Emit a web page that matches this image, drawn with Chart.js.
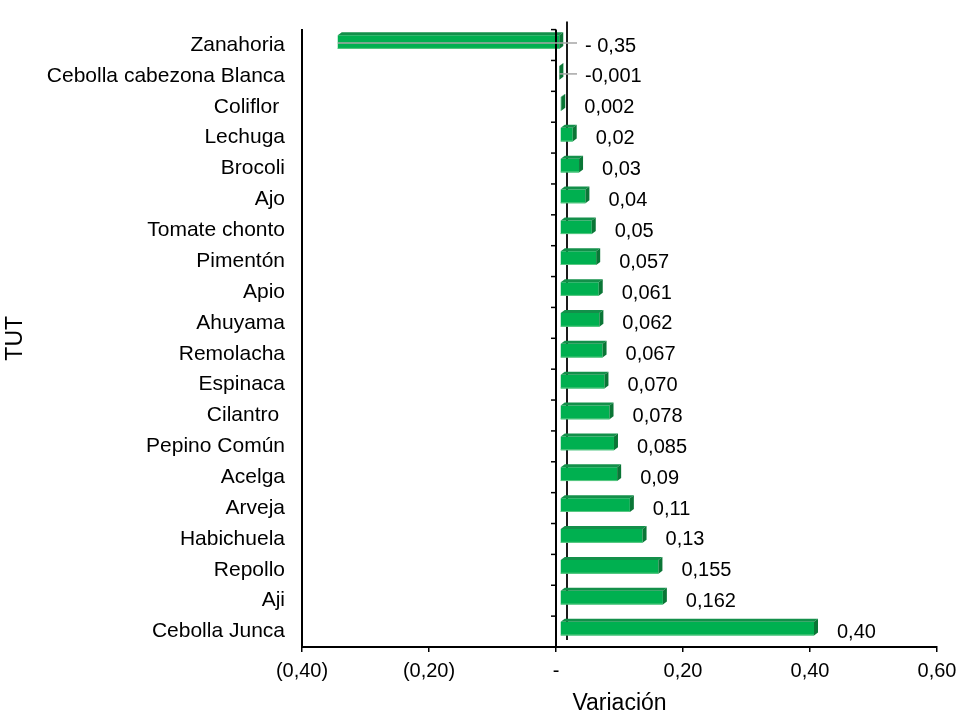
<!DOCTYPE html>
<html>
<head>
<meta charset="utf-8">
<title>Variación TUT</title>
<script src="https://cdn.jsdelivr.net/npm/chart.js@4.4.1/dist/chart.umd.min.js"></script>
<style>
  html, body { margin: 0; padding: 0; background: #fff; }
  #wrap { width: 961px; height: 717px; }
</style>
</head>
<body>
<div id="wrap"><canvas id="chart" width="961" height="717"></canvas></div>
<script>
// Categories top to bottom, as in the picture
const categories = [
  'Zanahoria', 'Cebolla cabezona Blanca', 'Coliflor ', 'Lechuga', 'Brocoli',
  'Ajo', 'Tomate chonto', 'Pimentón', 'Apio', 'Ahuyama',
  'Remolacha', 'Espinaca', 'Cilantro ', 'Pepino Común', 'Acelga',
  'Arveja', 'Habichuela', 'Repollo', 'Aji', 'Cebolla Junca'
];
const values = [
  -0.35, -0.001, 0.002, 0.02, 0.03,
  0.04, 0.05, 0.057, 0.061, 0.062,
  0.067, 0.070, 0.078, 0.085, 0.09,
  0.11, 0.13, 0.155, 0.162, 0.40
];
const valueLabels = [
  '- 0,35', '-0,001', '0,002', '0,02', '0,03',
  '0,04', '0,05', '0,057', '0,061', '0,062',
  '0,067', '0,070', '0,078', '0,085', '0,09',
  '0,11', '0,13', '0,155', '0,162', '0,40'
];
const xTickValues = [-0.4, -0.2, 0, 0.2, 0.4, 0.6];
const xTickLabels = ['(0,40)', '(0,20)', '-', '0,20', '0,40', '0,60'];

const FONT = '"Liberation Sans", Arial, sans-serif';
const DEPTH_X = 4, DEPTH_Y = 3; // fake 3D depth

// fake 3D faces, zero axis, data labels
const barDecor = {
  id: 'barDecor',
  beforeDatasetsDraw(chart) {
    const {ctx, chartArea, scales: {x}} = chart;
    const zx = x.getPixelForValue(0);
    ctx.save();
    ctx.strokeStyle = '#1a1a1a';
    ctx.lineWidth = 2;
    ctx.beginPath();
    ctx.moveTo(zx + 11, chartArea.top - 8);
    ctx.lineTo(zx + 11, chartArea.bottom - 7);
    ctx.stroke();
    ctx.restore();
  },
  beforeDatasetDraw(chart) {
    // push the front faces back into the "3D" box
    chart.ctx.save();
    chart.ctx.translate(DEPTH_X, -DEPTH_Y);
  },
  afterDatasetDraw(chart, args) {
    const ctx = chart.ctx;
    const dx = DEPTH_X, dy = DEPTH_Y;
    args.meta.data.forEach((bar) => {
      const p = bar.getProps(['x', 'y', 'base', 'height'], true);
      const l = Math.min(p.x, p.base), r = Math.max(p.x, p.base);
      const t = p.y - p.height / 2, b = p.y + p.height / 2;
      // top face
      ctx.fillStyle = '#13904a';
      ctx.beginPath();
      ctx.moveTo(l, t); ctx.lineTo(l + dx, t - dy); ctx.lineTo(r + dx, t - dy); ctx.lineTo(r, t);
      ctx.closePath(); ctx.fill();
      // end face
      ctx.fillStyle = '#0a7636';
      ctx.beginPath();
      ctx.moveTo(r, t); ctx.lineTo(r + dx, t - dy); ctx.lineTo(r + dx, b - dy); ctx.lineTo(r, b);
      ctx.closePath(); ctx.fill();
      // light bottom edge
      ctx.fillStyle = '#5cc985';
      ctx.fillRect(l, b - 1, r - l, 1);
    });
    ctx.restore();
  },
  afterDatasetsDraw(chart) {
    const {ctx, chartArea, scales: {x, y}} = chart;
    const meta = chart.getDatasetMeta(0);
    const zx = x.getPixelForValue(0);
    ctx.save();

    // zero axis with category ticks
    const step = y.getPixelForValue(1) - y.getPixelForValue(0);
    ctx.strokeStyle = '#000';
    ctx.lineWidth = 2;
    ctx.beginPath();
    ctx.moveTo(zx, chartArea.top);
    ctx.lineTo(zx, chartArea.bottom);
    ctx.stroke();
    ctx.lineWidth = 1.5;
    for (let i = 0; i <= categories.length; i++) {
      const yy = y.getPixelForValue(0) - step / 2 + i * step;
      ctx.beginPath();
      ctx.moveTo(zx - 5, yy);
      ctx.lineTo(zx, yy);
      ctx.stroke();
    }

    // data labels (+ leader lines for negatives)
    ctx.font = '20px ' + FONT;
    ctx.textBaseline = 'middle';
    ctx.textAlign = 'left';
    meta.data.forEach((bar, i) => {
      const p = bar.getProps(['x', 'y'], true);
      let lx;
      if (values[i] < 0) {
        lx = zx + 29;
        ctx.strokeStyle = '#a6a6a6';
        ctx.lineWidth = 1.5;
        ctx.beginPath();
        ctx.moveTo(p.x + DEPTH_X, p.y - 2);
        ctx.lineTo(lx - 8, p.y - 2);
        ctx.stroke();
      } else {
        lx = p.x + 27;
      }
      ctx.fillStyle = '#000';
      ctx.fillText(valueLabels[i], lx, p.y + 1);
    });
    ctx.restore();
  }
};

new Chart(document.getElementById('chart'), {
  type: 'bar',
  data: {
    labels: categories,
    datasets: [{
      data: values,
      backgroundColor: '#00b050',
      borderWidth: 0,
      categoryPercentage: 1,
      barPercentage: 0.445
    }]
  },
  options: {
    indexAxis: 'y',
    responsive: false,
    animation: false,
    layout: { padding: { top: 18, right: 24, bottom: 0, left: 0 } },
    plugins: {
      legend: { display: false },
      tooltip: { enabled: false }
    },
    scales: {
      x: {
        min: -0.4,
        max: 0.6,
        afterBuildTicks: (scale) => { scale.ticks = xTickValues.map(v => ({ value: v })); },
        afterFit: (scale) => {
          scale.height = 70;
          scale.paddingLeft = 0;
          scale.paddingRight = 0;
        },
        grid: { drawOnChartArea: false, drawTicks: true, tickLength: 5, tickColor: '#000', lineWidth: 1.5 },
        border: { display: true, color: '#000', width: 2 },
        ticks: {
          padding: 7,
          color: '#000',
          font: { family: FONT, size: 20 },
          maxRotation: 0,
          callback: (v, i) => xTickLabels[i]
        },
        title: {
          display: true,
          text: 'Variación',
          color: '#000',
          font: { family: FONT, size: 23 },
          padding: 0
        }
      },
      y: {
        afterFit: (scale) => { scale.width = 302; },
        grid: { display: true, drawOnChartArea: false, drawTicks: false },
        border: { display: true, color: '#000', width: 2 },
        ticks: {
          padding: 17,
          color: '#000',
          font: { family: FONT, size: 21 },
          autoSkip: false
        },
        title: {
          display: true,
          text: 'TUT',
          color: '#000',
          font: { family: FONT, size: 23 },
          padding: { top: 2, bottom: 0 }
        }
      }
    }
  },
  plugins: [barDecor]
});
</script>
</body>
</html>
